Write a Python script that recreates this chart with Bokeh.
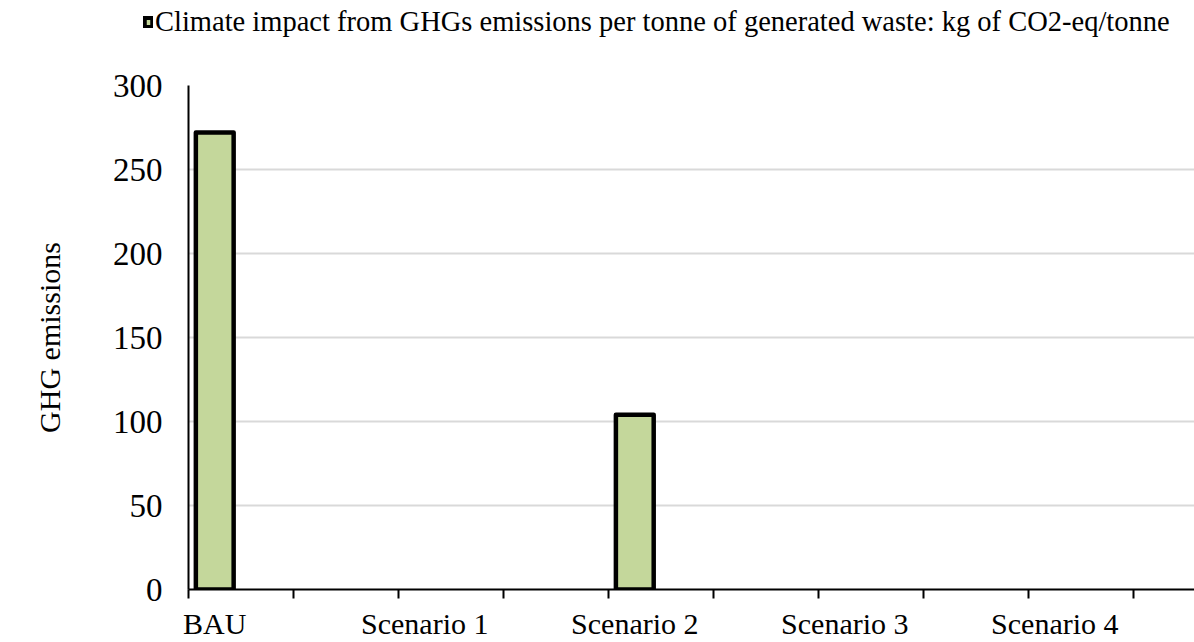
from bokeh.plotting import figure
from bokeh.layouts import column
from bokeh.models import (ColumnDataSource, Range1d, FixedTicker, Legend,
                          LegendItem)
from bokeh.embed import file_html
from bokeh.resources import INLINE

# Scenario results: climate impact per tonne of generated waste
categories = ["BAU", "Scenario 1", "Scenario 2", "Scenario 3", "Scenario 4"]
ghg_values = [272, 0, 104, 0, 0]
series_name = ("Climate impact from GHGs emissions per tonne of generated "
               "waste: kg of CO2-eq/tonne")
y_ticks = [0, 50, 100, 150, 200, 250, 300]

FONT = "Liberation Serif"
BAR_FILL = "#c4d79b"
WIDTH = 1194
HEADER_H = 65
LEFT = 188

# each scenario takes two axis slots; the bar sits near the left of its slot
x_pos = [2 * i + 0.25 for i in range(len(categories))]
source = ColumnDataSource(dict(
    x=x_pos,
    top=ghg_values,
    name=categories,
    line_alpha=[1.0 if v != 0 else 0.0 for v in ghg_values],
))
bar_style = dict(width=0.36, bottom=0, source=source, fill_color=BAR_FILL,
                 line_color="black", line_width=4.5, line_join="round")

p = figure(width=WIDTH, height=642 - HEADER_H, output_backend="svg",
           toolbar_location=None,
           x_range=Range1d(0, 9.58), y_range=Range1d(0, 300),
           min_border_left=LEFT, min_border_right=0, min_border_top=20,
           min_border_bottom=52)
p.outline_line_color = None
p.background_fill_color = "white"
p.border_fill_color = "white"

bars = p.vbar(x="x", top="top", line_alpha="line_alpha", **bar_style)

# x axis: tick marks between slots, labels under the bars
xax = p.xaxis[0]
xax.ticker = FixedTicker(ticks=x_pos, minor_ticks=list(range(10)))
xax.major_label_overrides = {x: c for x, c in zip(x_pos, categories)}
xax.major_tick_out = 0
xax.major_tick_in = 0
xax.minor_tick_out = 9
xax.minor_tick_in = 0
xax.minor_tick_line_color = "black"
xax.minor_tick_line_width = 2
xax.axis_line_color = "black"
xax.axis_line_width = 2
xax.major_label_standoff = 8
xax.major_label_text_font = FONT
xax.major_label_text_font_size = "30px"
xax.major_label_text_color = "black"

yax = p.yaxis[0]
yax.ticker = FixedTicker(ticks=y_ticks)
yax.major_tick_out = 0
yax.major_tick_in = 0
yax.minor_tick_out = 0
yax.minor_tick_in = 0
yax.axis_line_color = "black"
yax.axis_line_width = 2
yax.major_label_standoff = 26
yax.major_label_text_font = FONT
yax.major_label_text_font_size = "33px"
yax.major_label_text_color = "black"
yax.axis_label = "GHG emissions"
yax.axis_label_text_font = FONT
yax.axis_label_text_font_size = "30px"
yax.axis_label_text_font_style = "normal"
yax.axis_label_text_color = "black"
yax.axis_label_standoff = 44

p.xgrid.grid_line_color = None
p.ygrid.ticker = FixedTicker(ticks=y_ticks[1:])
p.ygrid.grid_line_color = "#d9d9d9"
p.ygrid.grid_line_width = 2

# header strip holding the series legend; its hidden renderer only
# supplies the legend swatch
head = figure(width=WIDTH, height=HEADER_H, output_backend="svg",
              toolbar_location=None, x_axis_type=None, y_axis_type=None,
              x_range=Range1d(0, 9.58), y_range=Range1d(0, 300),
              min_border=0)
head.frame_align = False
head.grid.visible = False
head.outline_line_color = None
head_bars = head.vbar(x="x", top="top", line_alpha=1.0, **bar_style)
head_bars.visible = False

legend = Legend(items=[LegendItem(label=series_name, renderers=[head_bars],
                                  index=0)],
                location=(143, 27), orientation="horizontal",
                padding=0, margin=0, spacing=0,
                glyph_width=10, glyph_height=12, label_standoff=2,
                label_text_font=FONT, label_text_font_size="28.5px",
                label_text_color="black", click_policy="none",
                inactive_fill_alpha=0,
                border_line_alpha=0, background_fill_alpha=0)
head.add_layout(legend, "center")

open("out.html", "w").write(file_html(column(head, p, spacing=0), INLINE))
